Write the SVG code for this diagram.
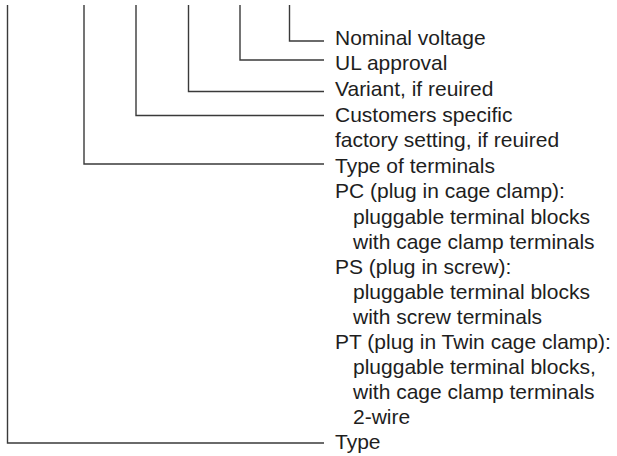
<svg xmlns="http://www.w3.org/2000/svg" width="617" height="456" viewBox="0 0 617 456">
<style>
.c{fill:none;stroke:#3a3a3a;stroke-width:1.4}
text{font-family:"Liberation Sans",Arial,Helvetica,sans-serif;font-size:21px;fill:#1e1e1e}
</style>
<rect width="617" height="456" fill="#fff"/>
<g id="connectors">
<path class="c" d="M289.5 5V41H324"/>
<path class="c" d="M240 5V60H324"/>
<path class="c" d="M188.5 5V91.5H324"/>
<path class="c" d="M136 5V115.5H324"/>
<path class="c" d="M84 5V164H324"/>
<path class="c" d="M7.5 5V443H324"/>
</g>
<g id="nominal-voltage"><text x="335" y="45">Nominal voltage</text></g>
<g id="ul-approval"><text x="335" y="70">UL approval</text></g>
<g id="variant"><text x="335" y="96">Variant, if reuired</text></g>
<g id="customer-setting"><text x="335" y="122">Customers specific</text><text x="335" y="147">factory setting, if reuired</text></g>
<g id="terminals">
<text x="335" y="173">Type of terminals</text>
<text x="335" y="198">PC (plug in cage clamp):</text>
<text x="353" y="224">pluggable terminal blocks</text>
<text x="353" y="249">with cage clamp terminals</text>
<text x="335" y="274">PS (plug in screw):</text>
<text x="353" y="299">pluggable terminal blocks</text>
<text x="353" y="324">with screw terminals</text>
<text x="335" y="349">PT (plug in Twin cage clamp):</text>
<text x="353" y="374">pluggable terminal blocks,</text>
<text x="353" y="399">with cage clamp terminals</text>
<text x="353" y="424">2-wire</text>
</g>
<g id="type"><text x="335" y="449">Type</text></g>
</svg>
